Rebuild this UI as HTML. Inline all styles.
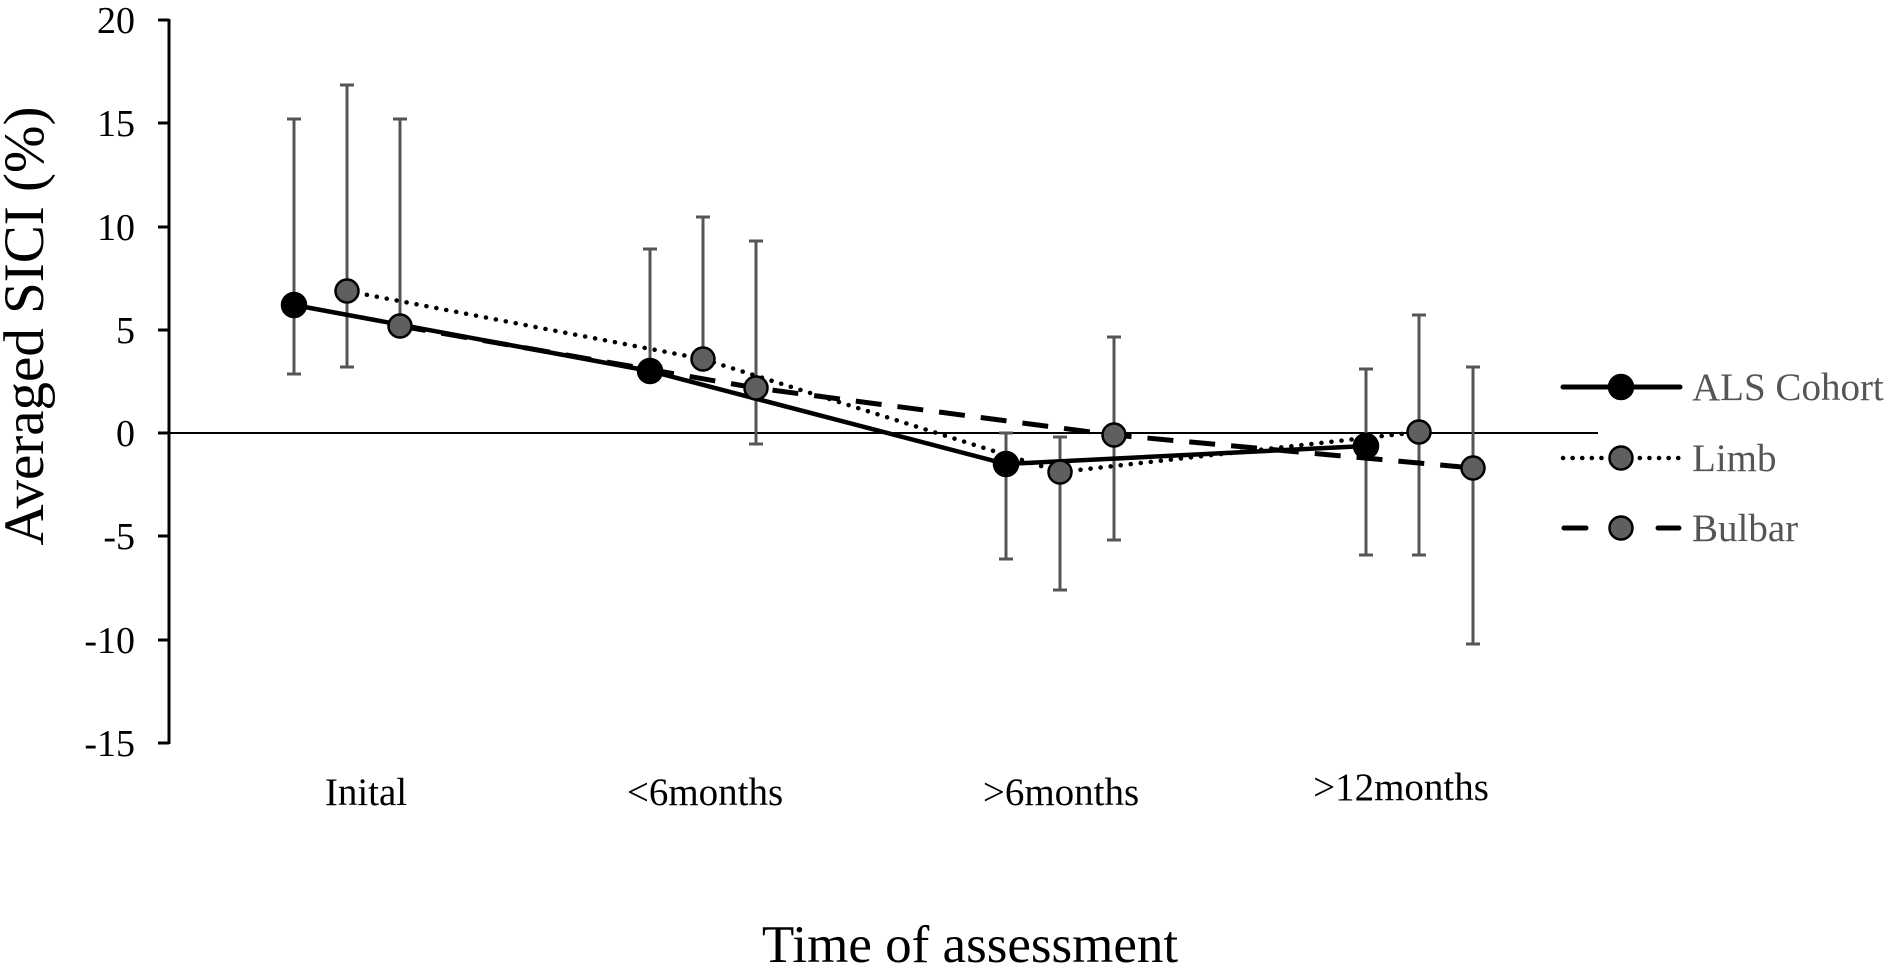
<!DOCTYPE html>
<html><head><meta charset="utf-8"><style>html,body{margin:0;padding:0;background:#fff}svg{display:block}</style></head><body>
<svg width="1893" height="971" viewBox="0 0 1893 971" xmlns="http://www.w3.org/2000/svg" font-family="Liberation Serif, serif">
<rect width="1893" height="971" fill="#fff"/>
<line x1="169" y1="19" x2="169" y2="744" stroke="#000" stroke-width="3"/>
<g stroke="#000" stroke-width="3">
<line x1="158" y1="20" x2="169" y2="20"/><line x1="158" y1="123" x2="169" y2="123"/><line x1="158" y1="227" x2="169" y2="227"/><line x1="158" y1="330" x2="169" y2="330"/><line x1="158" y1="433" x2="169" y2="433"/><line x1="158" y1="536" x2="169" y2="536"/><line x1="158" y1="640" x2="169" y2="640"/><line x1="158" y1="743" x2="169" y2="743"/>
</g>
<line x1="169" y1="433" x2="1598" y2="433" stroke="#000" stroke-width="2"/>
<g font-size="38" text-anchor="end" fill="#000">
<text x="135" y="33">20</text><text x="135" y="136">15</text><text x="135" y="240">10</text><text x="135" y="343">5</text><text x="135" y="446">0</text><text x="135" y="549">-5</text><text x="135" y="653">-10</text><text x="135" y="756">-15</text>
</g>
<g font-size="39" text-anchor="middle" fill="#000">
<text x="366" y="805">Inital</text><text x="705" y="805">&lt;6months</text><text x="1061" y="805">&gt;6months</text><text x="1401" y="800">&gt;12months</text>
</g>
<text x="970" y="962" font-size="53" text-anchor="middle">Time of assessment</text>
<text transform="translate(43,326) rotate(-90)" font-size="57" text-anchor="middle">Averaged SICI (%)</text>
<g stroke="#555" stroke-width="3" fill="none">
<path d="M294 119V374M287 119H301M287 374H301"/>
<path d="M347 85V367M340 85H354M340 367H354"/>
<path d="M400 119V326M393 119H407"/>
<path d="M650 249V371M643 249H657"/>
<path d="M703 217V359M696 217H710"/>
<path d="M756 241V444M749 241H763M749 444H763"/>
<path d="M1006 433V559M999 433H1013M999 559H1013"/>
<path d="M1060 437V590M1053 437H1067M1053 590H1067"/>
<path d="M1114 337V540M1107 337H1121M1107 540H1121"/>
<path d="M1366 369V555M1359 369H1373M1359 555H1373"/>
<path d="M1419 315V555M1412 315H1426M1412 555H1426"/>
<path d="M1473 367V644M1466 367H1480M1466 644H1480"/>
</g>
<polyline points="400,326 756,388 1114,435 1473,468" fill="none" stroke="#000" stroke-width="5" stroke-dasharray="26,16"/>
<polyline points="347,291 703,359 1060,472 1419,432" fill="none" stroke="#000" stroke-width="4.5" stroke-dasharray="0.1,10" stroke-linecap="round"/>
<polyline points="294,305 650,371 1006,464 1366,446" fill="none" stroke="#000" stroke-width="4.5"/>
<g stroke="#000" stroke-width="2.5">
<circle cx="294" cy="305" r="12" fill="#000"/><circle cx="650" cy="371" r="12" fill="#000"/><circle cx="1006" cy="464" r="12" fill="#000"/><circle cx="1366" cy="446" r="12" fill="#000"/>
<g fill="#5f5f5f">
<circle cx="347" cy="291" r="11.5"/><circle cx="703" cy="359" r="11.5"/><circle cx="1060" cy="472" r="11.5"/><circle cx="1419" cy="432" r="11.5"/>
<circle cx="400" cy="326" r="11.5"/><circle cx="756" cy="388" r="11.5"/><circle cx="1114" cy="435" r="11.5"/><circle cx="1473" cy="468" r="11.5"/>
</g>
</g>
<line x1="1563" y1="387" x2="1680" y2="387" stroke="#000" stroke-width="5" stroke-linecap="round"/>
<circle cx="1621" cy="387" r="12" fill="#000" stroke="#000" stroke-width="2.5"/>
<line x1="1563" y1="458" x2="1680" y2="458" stroke="#000" stroke-width="4.5" stroke-dasharray="0.1,9.5" stroke-linecap="round"/>
<circle cx="1621" cy="458" r="11.5" fill="#5f5f5f" stroke="#000" stroke-width="2.5"/>
<line x1="1564" y1="528" x2="1586" y2="528" stroke="#000" stroke-width="5" stroke-linecap="round"/>
<line x1="1658" y1="528" x2="1679" y2="528" stroke="#000" stroke-width="5" stroke-linecap="round"/>
<circle cx="1621" cy="528" r="11.5" fill="#5f5f5f" stroke="#000" stroke-width="2.5"/>
<g font-size="39" fill="#555">
<text x="1692" y="400">ALS Cohort</text><text x="1692" y="471">Limb</text><text x="1692" y="541">Bulbar</text>
</g>
</svg>
</body></html>
